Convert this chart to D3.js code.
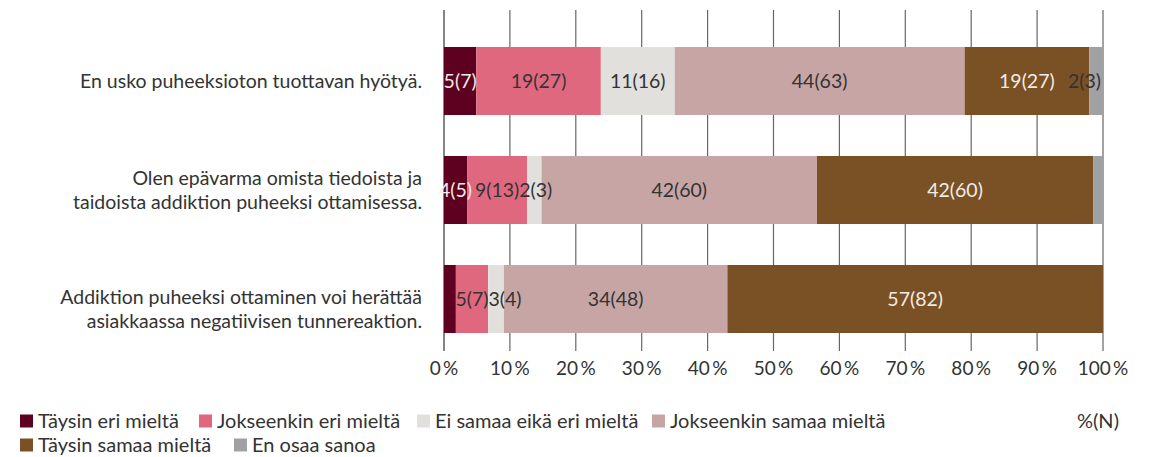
<!DOCTYPE html>
<html>
<head>
<meta charset="utf-8">
<script src="https://cdn.jsdelivr.net/npm/d3@7"></script>
<style>
  body { margin: 0; background: #fff; }
  svg { font-family: Lato, sans-serif; }
</style>
</head>
<body>
<div id="container"></div>
<script>
const categories = [
  ['En usko puheeksioton tuottavan hyötyä.'],
  ['Olen epävarma omista tiedoista ja', 'taidoista addiktion puheeksi ottamisessa.'],
  ['Addiktion puheeksi ottaminen voi herättää', 'asiakkaassa negatiivisen tunnereaktion.']
];
const seriesNames = ['Täysin eri mieltä', 'Jokseenkin eri mieltä', 'Ei samaa eikä eri mieltä',
  'Jokseenkin samaa mieltä', 'Täysin samaa mieltä', 'En osaa sanoa'];
const colors = ['#5e0020', '#e0687e', '#e1e0dc', '#c8a5a5', '#7a5125', '#a0a1a3'];
const labelColors = ['#f2ece6', '#333', '#333', '#333', '#f2ece6', '#333'];
// share of answers, % (one array per category, in series order)
const shares = [
  [4.9, 18.9, 11.2, 44.0, 18.9, 2.1],
  [3.5, 9.1, 2.2, 41.8, 41.9, 1.5],
  [1.8, 4.9, 2.4, 33.9, 57.0, 0]
];
const labels = [
  ['5(7)', '19(27)', '11(16)', '44(63)', '19(27)', '2(3)'],
  ['4(5)', '9(13)', '2(3)', '42(60)', '42(60)', ''],
  ['', '5(7)', '3(4)', '34(48)', '57(82)', '']
];
const ticks = [0, 10, 20, 30, 40, 50, 60, 70, 80, 90, 100];

const w = 1155, h = 457;
const svg = d3.select('#container').append('svg').attr('width', w).attr('height', h);

const x = d3.scaleLinear().domain([0, 100]).range([444, 1103]);
const y = d3.scaleBand().domain(d3.range(categories.length)).range([47, 333]).paddingInner(0.376).paddingOuter(0);

// grid
svg.append('g').selectAll('line').data(ticks).enter().append('line')
  .attr('x1', d => x(d)).attr('x2', d => x(d))
  .attr('y1', 10).attr('y2', 351)
  .attr('stroke', d => d === 0 ? '#333' : '#666')
  .attr('stroke-width', 1.2);

// tick labels
svg.append('g').selectAll('text').data(ticks).enter().append('text')
  .attr('x', d => x(d)).attr('y', 375)
  .attr('text-anchor', 'middle')
  .attr('font-size', 19).attr('fill', '#333')
  .text(d => d + '\u2009%');

// bars
const rows = svg.selectAll('.row').data(shares).enter().append('g').attr('class', 'row');
rows.each(function (vals, i) {
  const g = d3.select(this);
  const stack = d3.cumsum(vals);
  const segs = vals.map((v, j) => ({ v, j, x0: j ? stack[j - 1] : 0, x1: stack[j] }));
  g.selectAll('rect').data(segs).enter().append('rect')
    .attr('x', d => x(d.x0))
    .attr('width', d => x(d.x1) - x(d.x0))
    .attr('y', y(i)).attr('height', y.bandwidth())
    .attr('fill', d => colors[d.j]);

  const texts = g.selectAll('text.val').data(segs.filter(d => labels[i][d.j])).enter().append('text')
    .attr('class', 'val')
    .attr('x', d => (x(d.x0) + x(d.x1)) / 2)
    .attr('y', y(i) + y.bandwidth() / 2)
    .attr('dy', '0.35em')
    .attr('text-anchor', 'middle')
    .attr('font-size', 19.5)
    .attr('fill', d => labelColors[d.j])
    .text(d => labels[i][d.j]);
  // push labels apart so they do not overlap
  let prevRight = -Infinity;
  texts.each(function (d) {
    const t = d3.select(this);
    const tw = this.getComputedTextLength();
    let cx = +t.attr('x');
    if (cx - tw / 2 < prevRight) cx = prevRight + tw / 2;
    if (cx + tw / 2 > x(100) - 2) cx = x(100) - 2 - tw / 2;
    t.attr('x', cx);
    prevRight = cx + tw / 2;
  });
});

// category labels (last one sits a bit low in the original)
const catShift = [0, 0, 10];
svg.append('g').selectAll('text').data(categories).enter().append('text')
  .attr('x', 422)
  .attr('y', (d, i) => y(i) + y.bandwidth() / 2 - (d.length - 1) * 12.25 + catShift[i])
  .attr('text-anchor', 'end')
  .attr('font-size', 19.5)
  .attr('fill', '#333')
  .each(function (lines) {
    d3.select(this).selectAll('tspan').data(lines).enter().append('tspan')
      .attr('x', 422)
      .attr('dy', (d, k) => k ? 24.5 : 7)
      .text(d => d);
  });

// legend
const legendPos = [[20, 421], [199, 421], [417, 421], [652, 421], [20, 445], [234, 445]];
const legend = svg.selectAll('.legend').data(seriesNames).enter().append('g')
  .attr('class', 'legend')
  .attr('transform', (d, i) => `translate(${legendPos[i][0]},${legendPos[i][1]})`);
legend.append('rect').attr('x', 0).attr('y', -6.5).attr('width', 13).attr('height', 13)
  .attr('fill', (d, i) => colors[i]);
legend.append('text').attr('x', 18).attr('dy', '0.35em')
  .attr('font-size', 20).attr('fill', '#333').text(d => d);

svg.append('text').attr('x', 1077).attr('y', 421).attr('dy', '0.35em')
  .attr('font-size', 20).attr('fill', '#333').text('%(N)');
</script>
</body>
</html>
